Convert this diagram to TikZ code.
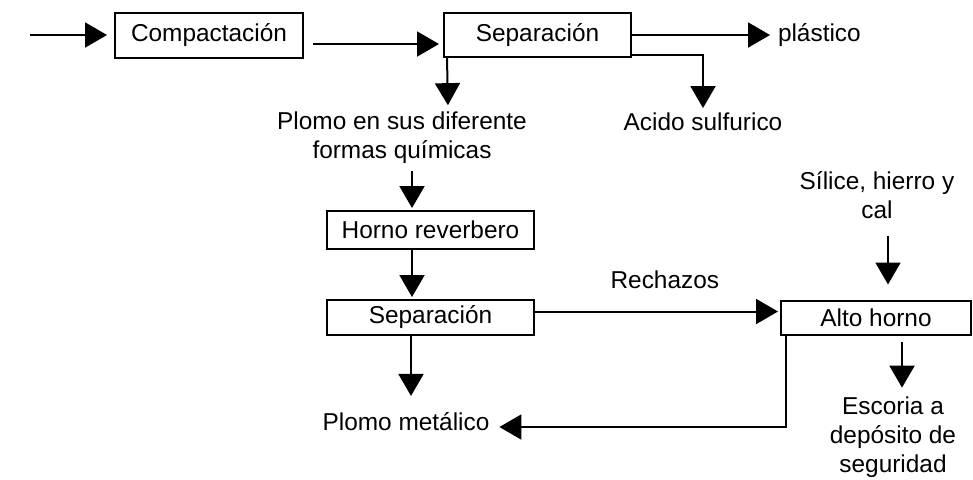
\documentclass[tikz,border=0pt]{standalone}
\usepackage{fontspec}
\setmainfont{Liberation Sans}
\usetikzlibrary{arrows.meta}

\tikzset{
	box/.style={draw, inner sep=0pt, align=center},
	txt/.style={inner sep=1pt, align=center}
}

\begin{document}
\begin{tikzpicture}[->,>={Triangle[length=11pt,width=12.5pt]}, shorten >=1pt,line width=1pt,x=0.5pt,y=-0.5pt,font=\fontsize{12.2}{14.5}\selectfont]
	\useasboundingbox (0,0) rectangle (973,479);

		% boxes
		\node[box, minimum width=94pt, minimum height=22.5pt] (comp) at (209,35) {Compactación};
		\node[box, minimum width=93.5pt, minimum height=22pt] (sep_1) at (537.5,35) {Separación};
		\node[box, minimum width=103.5pt, minimum height=19pt] (horno) at (430.5,230) {Horno reverbero};
		\node[box, minimum width=103.5pt, minimum height=17.5pt] (sep_2) at (430.5,317.5) {Separación};
		\node[box, minimum width=95pt, minimum height=17pt] (alto) at (876,317.5) {Alto horno};

		% products and inputs
		\node[txt, anchor=west] (plast) at (775,35) {plástico};
		\node[txt] (acido) at (703,122) {Acido sulfurico};
		\node[txt] (plomo) at (402,138) {Plomo en sus diferente\\formas químicas};
		\node[txt] (silice) at (877,195) {Sílice, hierro y\\cal};
		\node[txt] (metal) at (406,422) {Plomo metálico};
		\node[txt] (escoria) at (893,437) {Escoria a\\depósito de\\seguridad};
		\coordinate (inp) at (30,35);

		\draw[shorten >=3.5pt] (inp) -- (comp.west);
		\draw[shorten >=2pt] ([xshift=4.5pt,yshift=-4.5pt]comp.east) -- ([yshift=-4.5pt]sep_1.west);
		\draw[shorten >=2.5pt] (sep_1.east) -- (plast.west);
		\draw ([yshift=1.5pt]sep_1.south east) -| (acido.north);
		\draw[shorten >=2pt] ([xshift=2pt]sep_1.south west) -- ([xshift=23pt]plomo.north);
		\draw[shorten <=2pt] ([xshift=5pt]plomo.south) -- ([xshift=-9.25pt]horno.north);
		\draw ([xshift=-9.25pt]horno.south) -- ([xshift=-9.25pt]sep_2.north);
		\draw[shorten >=7pt] ([xshift=-9.75pt]sep_2.south) -- ([xshift=2.5pt]metal.north);
		\draw ([yshift=3pt]sep_2.east) -- node[txt, pos=0.53, above=10pt] (rech) {Rechazos} ([yshift=3pt]alto.west);
		\draw[shorten <=7pt, shorten >=7.5pt] ([xshift=5.5pt]silice.south) -- ([xshift=6pt]alto.north);
		\draw[shorten <=3pt, shorten >=3pt] ([xshift=13pt]alto.south) -- ([xshift=4.5pt]escoria.north);
		\draw[shorten >=3.5pt] ([xshift=3pt]alto.south west) |- ([yshift=-2.5pt]metal.east);
	\end{tikzpicture}
\end{document}
